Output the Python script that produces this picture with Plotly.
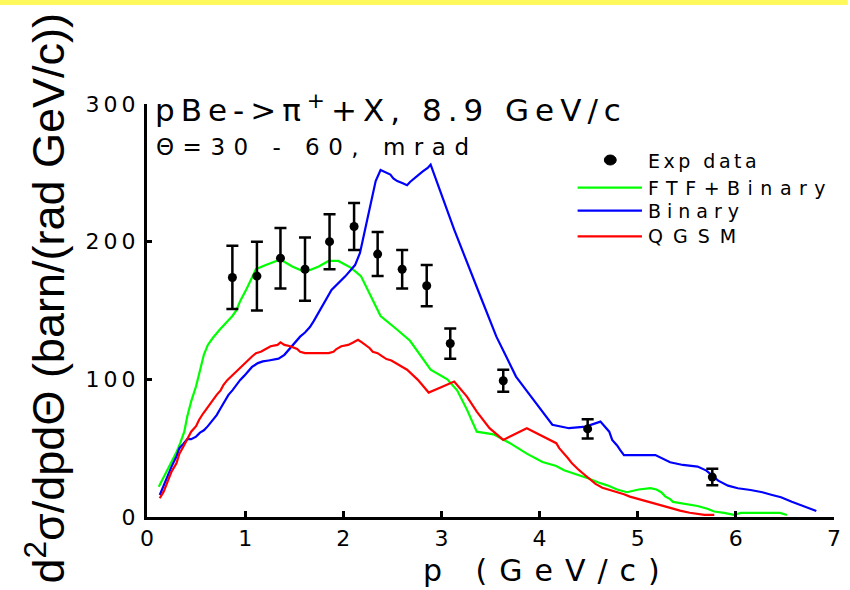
import plotly.graph_objects as go

# ---- data ----
exp_p = [0.87, 1.12, 1.36, 1.61, 1.86, 2.11, 2.35, 2.60, 2.85, 3.09, 3.63, 4.49, 5.76]
exp_val = [174, 175, 188, 180, 200, 211, 191, 180, 168, 126, 99, 64, 29]
exp_err = [23, 25, 22, 23, 20, 17, 16, 14, 15, 11, 8, 7, 6]

ftf_p = [0.12, 0.17, 0.20, 0.25, 0.30, 0.34, 0.38, 0.41, 0.45, 0.50,
         0.54, 0.58, 0.62, 0.67, 0.74, 0.81, 0.87, 0.91, 0.95, 1.01,
         1.11, 1.21, 1.36, 1.48, 1.61, 1.75, 1.85, 1.95, 2.08, 2.18,
         2.28, 2.38, 2.55, 2.68, 2.89, 3.06, 3.16, 3.26, 3.36, 3.53,
         3.69, 3.87, 4.03, 4.17, 4.25, 4.34, 4.42, 4.50, 4.60, 4.69,
         4.79, 4.89, 5.01, 5.13, 5.19, 5.24, 5.28, 5.33, 5.36, 5.46,
         5.61, 5.71, 5.78, 5.88, 5.98, 6.05, 6.45, 6.52]
ftf_val = [22, 29, 34, 40, 47, 54, 62, 73, 84, 95,
           106, 118, 125, 130, 136, 141, 146, 150, 157, 165,
           180, 183, 187, 182, 178, 182, 186, 186, 181, 175,
           160, 146, 136, 128, 107, 100, 92, 78, 62, 60,
           54, 46, 40, 37, 34, 32, 30, 28, 25, 23,
           20, 18, 20, 21, 20, 18, 15, 13, 11, 10,
           8, 6, 4, 3, 1.5, 3, 3, 1.5]

bin_p = [0.13, 0.17, 0.21, 0.25, 0.30, 0.33, 0.37, 0.41, 0.45, 0.50,
         0.54, 0.58, 0.62, 0.67, 0.71, 0.75, 0.79, 0.83, 0.87, 0.91,
         0.95, 0.99, 1.03, 1.07, 1.13, 1.18, 1.24, 1.34, 1.40, 1.44,
         1.48, 1.52, 1.56, 1.61, 1.66, 1.70, 1.75, 1.88, 2.02, 2.12,
         2.17, 2.22, 2.27, 2.30, 2.33, 2.38, 2.44, 2.48, 2.51, 2.55,
         2.60, 2.65, 2.68, 2.72, 2.77, 2.81, 2.86, 2.89, 2.92, 2.97,
         3.01, 3.04, 3.13, 3.41, 3.49, 3.56, 3.66, 3.76, 3.90, 4.03,
         4.13, 4.30, 4.47, 4.62, 4.71, 4.74, 4.79, 4.82, 4.86, 5.18,
         5.24, 5.33, 5.46, 5.61, 5.70, 5.77, 5.82, 5.92, 6.02, 6.15,
         6.27, 6.37, 6.46, 6.57, 6.69, 6.76, 6.82]
bin_val = [16, 23, 30.5, 36.6, 43.9, 50, 53, 56.5, 56.5, 58.4,
           61.3, 63, 66, 70, 74, 79, 84, 88.7, 92, 96,
           99.6, 102.5, 105.7, 109, 111.8, 113, 113.7, 115, 117.8, 121,
           125, 128, 131, 134, 138, 142.5, 149, 165, 174.8, 183,
           191.8, 208.7, 223.8, 235, 244, 252, 250, 248.7, 246, 244,
           242.6, 241, 243.4, 246, 248.7, 251, 253.6, 256, 250, 240,
           233, 225.7, 208.7, 158, 143, 131, 116.6, 102, 88.7, 76.6,
           67, 64.5, 65.7, 69.3, 62, 56, 52, 48.7, 45, 45,
           42.7, 39.8, 37.8, 36.6, 33.7, 29.3, 26.4, 22.8, 20.9, 19.6,
           18, 16, 14.3, 11.1, 8, 6.3, 4.4]

qgsm_p = [0.13, 0.17, 0.21, 0.25, 0.30, 0.33, 0.37, 0.41, 0.45, 0.50,
          0.53, 0.57, 0.62, 0.67, 0.71, 0.75, 0.78, 0.82, 0.87, 0.91,
          0.95, 0.99, 1.03, 1.07, 1.11, 1.16, 1.21, 1.26, 1.33, 1.36,
          1.40, 1.46, 1.53, 1.56, 1.61, 1.85, 1.90, 1.93, 1.98, 2.05,
          2.10, 2.15, 2.19, 2.23, 2.27, 2.30, 2.35, 2.39, 2.44, 2.49,
          2.54, 2.65, 2.76, 2.87, 3.02, 3.13, 3.26, 3.36, 3.49, 3.63,
          3.87, 4.03, 4.17, 4.20, 4.25, 4.29, 4.33, 4.36, 4.40, 4.44,
          4.49, 4.53, 4.57, 4.64, 4.72, 4.81, 4.86, 4.92, 5.01, 5.09,
          5.18, 5.26, 5.35, 5.43, 5.53, 5.68, 5.78]
qgsm_val = [13.6, 18.4, 25.7, 33, 39, 46, 51, 56, 62, 66,
            70.5, 75, 80, 85, 88.7, 92, 96, 99.6, 103, 106,
            109, 111.8, 114, 116.6, 119, 120, 122, 124, 125, 126.8,
            125, 124, 122, 120, 119, 119, 120, 122, 124, 125,
            126.8, 128.7, 126.8, 125, 122.6, 120, 119, 117, 114.7, 113.7,
            111.8, 107, 99.6, 90.4, 95, 98.4, 87.5, 76.6, 64.5, 56,
            64.5, 58.4, 53.6, 50, 46.3, 42.7, 39, 36.6, 34.2, 31.8,
            28.9, 26.4, 24, 21.3, 19.6, 18, 16.5, 14.8, 13.1, 11.1,
            9.5, 8, 6.3, 4.6, 3.1, 1.5, 1.5]

x_ticks = [0, 1, 2, 3, 4, 5, 6, 7]
y_ticks = [0, 100, 200, 300]

assert len(ftf_p) == len(ftf_val)
assert len(bin_p) == len(bin_val)
assert len(qgsm_p) == len(qgsm_val)

FONT = "DejaVu Sans"


def spaced(text, px):
    return f"<span style='letter-spacing:{px}px'>{text}</span>"


fig = go.Figure()
fig.add_trace(go.Scatter(x=ftf_p, y=ftf_val, mode="lines",
                         line=dict(color="#00FF00", width=2.2), name="FTF+Binary"))
fig.add_trace(go.Scatter(x=bin_p, y=bin_val, mode="lines",
                         line=dict(color="#0000FF", width=2.2), name="Binary"))
fig.add_trace(go.Scatter(x=qgsm_p, y=qgsm_val, mode="lines",
                         line=dict(color="#FF0000", width=2.2), name="QGSM"))
fig.add_trace(go.Scatter(x=exp_p, y=exp_val, mode="markers", name="Exp data",
                         marker=dict(color="black", size=9),
                         error_y=dict(type="data", array=exp_err, color="black",
                                      thickness=2.5, width=6)))

axis_common = dict(showline=True, linewidth=3, linecolor="black", ticks="inside",
                   tickwidth=3, tickcolor="black", showgrid=False, zeroline=False,
                   tickfont=dict(family=FONT, size=22, color="black"))

fig.update_layout(
    width=850, height=590, autosize=False,
    margin=dict(l=147, r=9, t=104, b=73),
    paper_bgcolor="white", plot_bgcolor="white",
    showlegend=False,
    xaxis=dict(range=[0, 7], tickvals=x_ticks, ticklen=6,
               ticklabelstandoff=0, **axis_common),
    yaxis=dict(range=[0, 300], tickvals=y_ticks, ticklen=5,
               ticktext=[spaced(str(v), 4) for v in y_ticks],
               ticklabelstandoff=0, **axis_common),
)

# plot-area pixel helpers (paper coordinates)
L, R, T, B = 147, 841, 104, 517


def px(x):
    return (x - L) / (R - L)


def py(y):
    return (B - y) / (B - T)


ann = []
ann.append(dict(text=spaced("pBe-&gt;π<sup>+</sup>+X, 8.9 GeV/c", 6), x=px(153), y=py(108),
                xanchor="left", yanchor="middle",
                font=dict(family=FONT, size=31, color="black")))
ann.append(dict(text=spaced("Θ=30 - 60, mrad", 8.5), x=px(154), y=py(146.5),
                xanchor="left", yanchor="middle",
                font=dict(family=FONT, size=23, color="black")))
ann.append(dict(text=spaced("p (GeV/c)", 12), x=px(552), y=py(570),
                xanchor="center", yanchor="middle",
                font=dict(family=FONT, size=30, color="black")))
ann.append(dict(text="d<sup>2</sup>σ/dpdΘ (barn/(rad GeV/c))", x=px(44), y=py(298.5),
                xanchor="center", yanchor="middle", textangle=-90,
                font=dict(family="Liberation Sans", size=45, color="black")))

legend_items = [("Exp data", 161, 3.5, None),
                ("FTF+Binary", 187.7, 7.5, "#00FF00"),
                ("Binary", 210.7, 6, "#0000FF"),
                ("QGSM", 236.3, 10, "#FF0000")]
shapes = []
for label, yy, sp, col in legend_items:
    ann.append(dict(text=spaced(label, sp), x=px(651), y=py(yy),
                    xanchor="left", yanchor="middle",
                    font=dict(family=FONT, size=19, color="black")))
    if col:
        shapes.append(dict(type="line", xref="paper", yref="paper",
                           x0=px(582), x1=px(647), y0=py(yy), y1=py(yy),
                           line=dict(color=col, width=2.2)))
    else:
        shapes.append(dict(type="circle", xref="paper", yref="paper",
                           x0=px(609), x1=px(621), y0=py(165), y1=py(155),
                           fillcolor="black", line=dict(color="black", width=1)))

for a in ann:
    a.update(xref="paper", yref="paper", showarrow=False)

# yellow band along the top edge
shapes.append(dict(type="rect", xref="paper", yref="paper",
                   x0=px(-5), x1=px(855), y0=py(5), y1=py(-5),
                   fillcolor="#FFF95B", line=dict(width=0)))

fig.update_layout(annotations=ann, shapes=shapes)

fig.write_html("out.html", config={"displayModeBar": False})
